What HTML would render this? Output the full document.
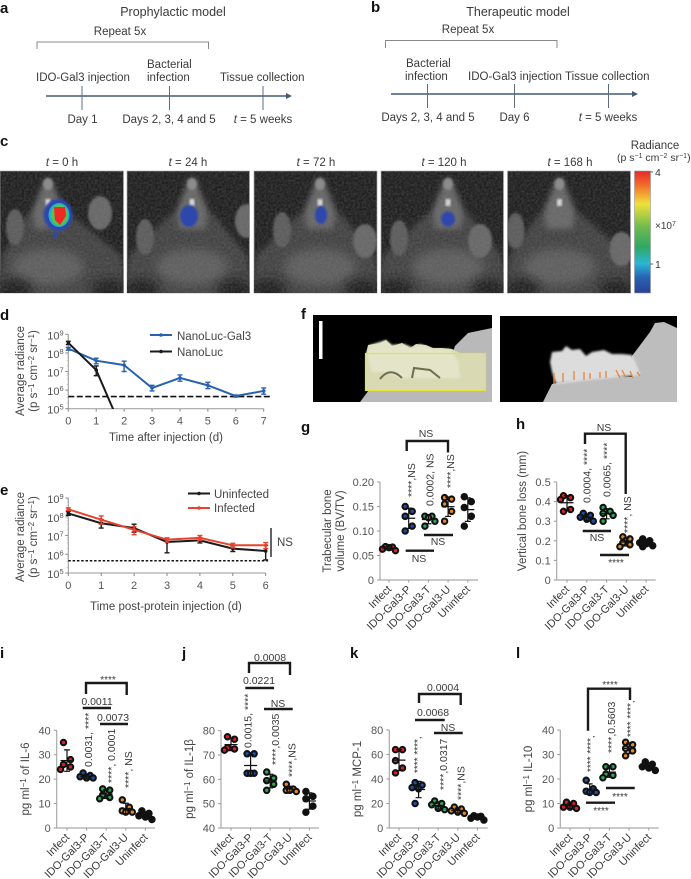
<!DOCTYPE html>
<html lang="en">
<head>
<meta charset="utf-8">
<title>IDO-Gal3 figure</title>
<style>
html,body{margin:0;padding:0;background:#fff;}
svg{display:block;font-family:"Liberation Sans",sans-serif;fill:#333;}
.t{font-size:11.5px;fill:#3a3a3a;}
.h{font-size:12.5px;fill:#3a3a3a;}
.s{font-size:10.5px;fill:#3a3a3a;}
.m{font-size:10px;fill:#3a3a3a;}
.L{font-size:15px;font-weight:bold;fill:#111;}
.tick{font-size:11px;fill:#555;}
.ax{font-size:11.5px;fill:#444;}
.c{text-anchor:middle;}
.tl{stroke:#44597a;stroke-width:1.6;fill:none;}
.tk{stroke:#5d6c84;stroke-width:1;fill:none;}
.br{stroke:#888;stroke-width:1;fill:none;}
.sig{stroke:#1a1a1a;stroke-width:2.4;fill:none;}
.cat{font-size:11px;fill:#3a3a3a;}
</style>
</head>
<body>
<svg id="fig" xmlns="http://www.w3.org/2000/svg" width="691" height="879" viewBox="0 0 691 879">
<defs>
<filter id="b1" x="-20%" y="-20%" width="140%" height="140%"><feGaussianBlur stdDeviation="1"/></filter>
<filter id="b3" x="-30%" y="-30%" width="160%" height="160%"><feGaussianBlur stdDeviation="3"/></filter>
<filter id="b6" x="-30%" y="-30%" width="160%" height="160%"><feGaussianBlur stdDeviation="5"/></filter>
<filter id="noise" x="0" y="0" width="100%" height="100%"><feTurbulence type="fractalNoise" baseFrequency="0.45" numOctaves="2" seed="4"/><feColorMatrix type="matrix" values="0 0 0 0 0.25  0 0 0 0 0.25  0 0 0 0 0.25  1.4 0 0 0 -0.35"/></filter>
<linearGradient id="cbar" x1="0" y1="0" x2="0" y2="1">
<stop offset="0" stop-color="#e8262a"/><stop offset="0.12" stop-color="#f3702a"/><stop offset="0.27" stop-color="#efe13a"/><stop offset="0.45" stop-color="#74bd4c"/><stop offset="0.62" stop-color="#2fa862"/><stop offset="0.76" stop-color="#29b6d6"/><stop offset="0.87" stop-color="#2764b4"/><stop offset="1" stop-color="#2a3f97"/>
</linearGradient>
</defs>

<!-- Panel letters -->
<text class="L" x="0" y="13">a</text>
<text class="L" x="371" y="12">b</text>
<text class="L" x="0" y="146">c</text>
<text class="L" x="0" y="320">d</text>
<text class="L" x="0" y="495">e</text>
<text class="L" x="301" y="319">f</text>
<text class="L" x="301" y="432">g</text>
<text class="L" x="516" y="429">h</text>
<text class="L" x="0" y="658">i</text>
<text class="L" x="182" y="658">j</text>
<text class="L" x="350" y="658">k</text>
<text class="L" x="516" y="658">l</text>

<!-- Panel a -->
<g>
<text class="h c" x="173" y="16">Prophylactic model</text>
<text class="t c" x="120" y="35">Repeat 5x</text>
<path class="br" d="M37 49V42H208.500V49"/>
<text class="t" x="36" y="81">IDO-Gal3 injection</text>
<text class="t" x="147" y="68">Bacterial</text>
<text class="t" x="147" y="81">infection</text>
<text class="t" x="220" y="81">Tissue collection</text>
<path class="tl" d="M46 96H288"/>
<path d="M292 96l-6-3v6z" fill="#44597a"/>
<path class="tk" d="M82 86V110M169.500 86V110M263 86V110"/>
<text class="t c" x="82.500" y="123">Day 1</text>
<text class="t c" x="169" y="123">Days 2, 3, 4 and 5</text>
<text class="t c" x="263" y="123"><tspan font-style="italic">t</tspan> = 5 weeks</text>
</g>

<!-- Panel b -->
<g>
<text class="h c" x="518" y="16">Therapeutic model</text>
<text class="t c" x="468" y="33">Repeat 5x</text>
<path class="br" d="M385.500 48V40.500H557V48"/>
<text class="t" x="406" y="67">Bacterial</text>
<text class="t" x="405" y="80">infection</text>
<text class="t" x="468" y="80">IDO-Gal3 injection</text>
<text class="t" x="565" y="80">Tissue collection</text>
<path class="tl" d="M391 94H634"/>
<path d="M638 94l-6-3v6z" fill="#44597a"/>
<path class="tk" d="M427.500 84V108M514.500 84V108M608.500 84V108"/>
<text class="t c" x="428" y="121">Days 2, 3, 4 and 5</text>
<text class="t c" x="514.500" y="121">Day 6</text>
<text class="t c" x="608" y="121"><tspan font-style="italic">t</tspan> = 5 weeks</text>
</g>

<!-- Panel c -->
<g id="mice"></g>
<g>
<text class="t c" x="62" y="166"><tspan font-style="italic">t</tspan> = 0 h</text>
<text class="t c" x="188" y="166"><tspan font-style="italic">t</tspan> = 24 h</text>
<text class="t c" x="316" y="166"><tspan font-style="italic">t</tspan> = 72 h</text>
<text class="t c" x="444" y="166"><tspan font-style="italic">t</tspan> = 120 h</text>
<text class="t c" x="570" y="166"><tspan font-style="italic">t</tspan> = 168 h</text>
</g>
<g>
<text class="t c" x="655" y="149">Radiance</text>
<text class="s" x="617" y="161">(p s<tspan dy="-3" font-size="7">−1</tspan><tspan dy="3"> cm</tspan><tspan dy="-3" font-size="7">−2</tspan><tspan dy="3"> sr</tspan><tspan dy="-3" font-size="7">−1</tspan><tspan dy="3">)</tspan></text>
<rect x="634.500" y="171" width="16" height="122" fill="url(#cbar)" stroke="#999" stroke-width=".6"/>
<path d="M650 172h3M650 264h3" stroke="#666"/>
<text class="s" x="655" y="176">4</text>
<text class="m" x="655" y="229">×10<tspan dy="-3" font-size="7">7</tspan></text>
<text class="s" x="655" y="268">1</text>
</g>

<!-- Panel d static -->
<g id="chartD">
<text class="ax c" transform="translate(24 371) rotate(-90)">Average radiance</text>
<text class="ax c" transform="translate(37 371) rotate(-90)">(p s<tspan dy="-3" font-size="8">−1</tspan><tspan dy="3"> cm</tspan><tspan dy="-3" font-size="8">−2</tspan><tspan dy="3"> sr</tspan><tspan dy="-3" font-size="8">−1</tspan><tspan dy="3">)</tspan></text>
<text class="ax c" x="166" y="441">Time after injection (d)</text>
<path d="M150 335H172" stroke="#2a62ad" stroke-width="2"/>
<circle cx="161" cy="335" r="1.800" fill="#2a62ad"/>
<text class="ax" x="177" y="340">NanoLuc-Gal3</text>
<path d="M150 351.500H172" stroke="#1a1a1a" stroke-width="2"/>
<circle cx="161" cy="351.500" r="1.800" fill="#1a1a1a"/>
<text class="ax" x="177" y="356">NanoLuc</text>
</g>

<!-- Panel e static -->
<g id="chartE">
<text class="ax c" transform="translate(24 537) rotate(-90)">Average radiance</text>
<text class="ax c" transform="translate(37 537) rotate(-90)">(p s<tspan dy="-3" font-size="8">−1</tspan><tspan dy="3"> cm</tspan><tspan dy="-3" font-size="8">−2</tspan><tspan dy="3"> sr</tspan><tspan dy="-3" font-size="8">−1</tspan><tspan dy="3">)</tspan></text>
<text class="ax c" x="166" y="610">Time post-protein injection (d)</text>
<path d="M188 493.500H210" stroke="#1a1a1a" stroke-width="2"/>
<circle cx="199" cy="493.500" r="1.800" fill="#1a1a1a"/>
<text class="ax" x="214" y="498">Uninfected</text>
<path d="M188 508H210" stroke="#e8432e" stroke-width="2"/>
<circle cx="199" cy="508" r="1.800" fill="#e8432e"/>
<text class="ax" x="214" y="512">Infected</text>
<path d="M271 528V557" stroke="#222" stroke-width="1.400"/>
<text class="ax" x="277" y="546">NS</text>
</g>

<!-- Panel f -->
<g>
<rect x="313" y="315" width="179" height="87" fill="#000"/>
<path d="M360 402L372 386L440 388L455 346L468 333L492 328V402Z" fill="#b9b9b9"/>
<path d="M366 354L368 345L380 343L386 340L392 346L402 343L410 348L416 344L426 345L433 348L442 348L452 349L462 354L486 354V390H366Z" fill="#d9dab4"/>
<path d="M367 353L370 345L386 340L392 345L404 344L414 348L420 344L432 349L450 349L458 362L460 378L400 378L385 372L372 372Z" fill="#e4e5c8" filter="url(#b1)"/>
<path d="M380 379Q390 366 402 378M412 378L414 368L430 370L440 378" stroke="#6d6d50" stroke-width="2" fill="none"/>
<rect x="365.500" y="353.500" width="120" height="37" fill="none" stroke="#e5e43a" stroke-width="1.200"/>
<rect x="319" y="321" width="3.500" height="38" fill="#fff"/>
</g>
<g>
<rect x="500" y="316" width="177" height="86" fill="#000"/>
<path d="M543 402L552 384L600 375L632 377L632 356L650 332L655 323L664 322L677 328V402Z" fill="#bdbdbd"/>
<path d="M550 362L552 352L562 351L566 346L572 350L580 349L586 356L592 352L604 350L612 354L622 354L632 355L638 368L640 375L610 378L590 380L556 384L552 372Z" fill="#dcdcdc" filter="url(#b1)"/>
<path d="M554 373V384M563 373V382M574 371V380M584 372V380M590 373V379M600 372V378M606 371V378M616 370L620 378M622 370L626 378M630 371L633 378M637 372L640 376" stroke="#e8843a" stroke-width="1.300" fill="none"/>
</g>

<!-- Scatter panels -->
<g id="chartG">
<text class="ax c" transform="translate(331 531) rotate(-90)">Trabecular bone</text>
<text class="ax c" transform="translate(344 531) rotate(-90)">volume (BV/TV)</text>
<path class="sig" d="M406.700 451V441H448V452.500"/>
<path class="sig" d="M405.700 550.700H434M424 535H453"/>
<text class="s c" x="426" y="437">NS</text>
<text class="s c" x="419" y="562">NS</text>
<text class="s c" x="438" y="545">NS</text>
<text class="s" transform="translate(415 497) rotate(-90)">****,NS</text>
<text class="s" transform="translate(433.500 506) rotate(-90)">0.0002, NS</text>
<text class="s" transform="translate(454 488) rotate(-90)">****,NS</text>
</g>
<g id="chartH">
<text class="ax c" transform="translate(526 511) rotate(-90)">Vertical bone loss (mm)</text>
<path class="sig" d="M585 444V433.700H625.700V494"/>
<path class="sig" d="M582.700 531H611M600 555H629"/>
<text class="s c" x="604" y="431">NS</text>
<text class="s c" x="597" y="541">NS</text>
<text class="m c" x="616" y="566">****</text>
<text class="s" transform="translate(590.500 503) rotate(-90)">0.0004, ****</text>
<text class="s" transform="translate(610.500 497) rotate(-90)">0.0065, ****</text>
<text class="s" transform="translate(631 533) rotate(-90)">****, NS</text>
</g>
<g id="chartI">
<text class="ax c" transform="translate(29 779) rotate(-90)">pg ml<tspan dy="-3" font-size="8">−1</tspan><tspan dy="3"> of IL-6</tspan></text>
<path class="sig" d="M86 694V683H126.700V695"/>
<path class="sig" d="M82.700 708H111M100 724H128"/>
<text class="m c" x="108" y="683">****</text>
<text class="s c" x="97" y="705">0.0011</text>
<text class="s c" x="113" y="721">0.0073</text>
<text class="s" transform="translate(92 767) rotate(-90)">0.0031, ****</text>
<text class="s" transform="translate(115 783) rotate(-90)">****, 0.0001</text>
<text class="s" transform="translate(132 788) rotate(-90)">****, NS</text>
</g>
<g id="chartJ">
<text class="ax c" transform="translate(193 779) rotate(-90)">pg ml<tspan dy="-3" font-size="8">−1</tspan><tspan dy="3"> of  IL-1β</tspan></text>
<path class="sig" d="M249 673V663H290V675"/>
<path class="sig" d="M245.300 688H274M264 709H292.700"/>
<text class="s c" x="270" y="661">0.0008</text>
<text class="s c" x="259" y="684">0.0221</text>
<text class="s c" x="278" y="707">NS</text>
<text class="s" transform="translate(251.500 748) rotate(-90)">0.0015, ****</text>
<text class="s" transform="translate(279 765) rotate(-90)">****,0.0035</text>
<text class="s" transform="translate(295.500 777) rotate(-90)">****,NS</text>
</g>
<g id="chartK">
<text class="ax c" transform="translate(361 779) rotate(-90)">pg ml<tspan dy="-3" font-size="8">−1</tspan><tspan dy="3"> MCP-1</tspan></text>
<path class="sig" d="M419 703V694H460.700V705"/>
<path class="sig" d="M415 720H444.700M434 733H462.700"/>
<text class="s c" x="443" y="691">0.0004</text>
<text class="s c" x="433" y="716">0.0068</text>
<text class="s c" x="448" y="731">NS</text>
<text class="m" transform="translate(421 773) rotate(-90)">**** ****,</text>
<text class="s" transform="translate(447 790) rotate(-90)">****,0.0317</text>
<text class="s" transform="translate(464.500 800) rotate(-90)">****,NS</text>
</g>
<g id="chartL">
<text class="ax c" transform="translate(532 779) rotate(-90)">pg ml<tspan dy="-3" font-size="8">−1</tspan><tspan dy="3"> IL-10</tspan></text>
<path class="sig" d="M588 730.700V688.700H630V700"/>
<path class="sig" d="M586 802.700H615M606 788H634.700"/>
<text class="m c" x="610" y="688">****</text>
<text class="m c" x="601" y="814">****</text>
<text class="m c" x="620" y="800">****</text>
<text class="m" transform="translate(594 772) rotate(-90)">**** ****,</text>
<text class="s" transform="translate(615 753) rotate(-90)">****,0.5603</text>
<text class="m" transform="translate(634 737) rotate(-90)">**** ****,</text>
</g>
</svg>

<script>
// ---- Line chart data (panels d, e) ----
const dayTicksD = [0, 1, 2, 3, 4, 5, 6, 7];
const gal3Mean = [1.7e8, 3.8e7, 2.2e7, 1.3e6, 4.5e6, 1.8e6, 4.8e5, 9e5];
const gal3Low = [1.4e8, 2.6e7, 1.0e7, 9e5, 3e6, 1.2e6, 4.2e5, 6e5];
const gal3High = [2.0e8, 5.2e7, 3.6e7, 1.8e6, 6.5e6, 2.6e6, 5.4e5, 1.3e6];
const nanolucDays = [0, 1, 2];
const nanolucMean = [3.5e8, 1.2e7, 4e3];
const nanolucLow = [2.8e8, 6e6, 4e3];
const nanolucHigh = [4.2e8, 2e7, 4e3];
const thresholdD = 4.5e5;
const dayTicksE = [0, 1, 2, 3, 4, 5, 6];
const uninfMean = [1.5e8, 4.5e7, 2.5e7, 4.5e6, 5.5e6, 2e6, 1.5e6];
const uninfLow = [1.2e8, 2.5e7, 1.5e7, 1.2e6, 4e6, 1.4e6, 5e5];
const uninfHigh = [1.9e8, 7e7, 4e7, 6.5e6, 7.5e6, 2.8e6, 3e6];
const infMean = [2.5e8, 7e7, 2e7, 6e6, 7.5e6, 3e6, 3e6];
const infLow = [2.1e8, 4e7, 1.1e7, 4.5e6, 5.5e6, 2.2e6, 2e6];
const infHigh = [3e8, 1.1e8, 3e7, 7.5e6, 1e7, 3.8e6, 4.2e6];
const thresholdE = 4.5e5;
const logExponents = [5, 6, 7, 8, 9];

// ---- Scatter data (panels g-l) ----
const groupLabels = ['Infect', 'IDO-Gal3-P', 'IDO-Gal3-T', 'IDO-Gal3-U', 'Uninfect'];
const groupColors = ['#e01f2d', '#1f4fa8', '#2fa85a', '#ec8a24', '#111111'];
const ticksG = [0, 0.05, 0.10, 0.15, 0.20];
const tickTextG = ['0', '0.05', '0.10', '0.15', '0.20'];
const boneVolume = [
  [0.068, 0.066, 0.063, 0.060, 0.067],
  [0.150, 0.140, 0.130, 0.110, 0.100],
  [0.130, 0.130, 0.127, 0.120, 0.110],
  [0.168, 0.165, 0.155, 0.140, 0.120],
  [0.170, 0.160, 0.148, 0.130, 0.110]
];
const ticksH = [0, 0.1, 0.2, 0.3, 0.4, 0.5];
const tickTextH = ['0', '0.1', '0.2', '0.3', '0.4', '0.5'];
const boneLoss = [
  [0.43, 0.42, 0.41, 0.36, 0.35],
  [0.34, 0.33, 0.32, 0.31, 0.30],
  [0.37, 0.35, 0.34, 0.33, 0.30],
  [0.22, 0.21, 0.19, 0.18, 0.17],
  [0.21, 0.20, 0.19, 0.185, 0.175, 0.17]
];
const ticksI = [0, 10, 20, 30, 40];
const il6 = [
  [35, 28, 26, 25, 24],
  [22.5, 21.5, 21, 20.5, 20.5],
  [16, 15.5, 13.5, 12.5, 12],
  [11.5, 8.5, 7, 6.5, 6.5],
  [7, 6, 5, 4.5, 3.5]
];
const ticksJ = [40, 50, 60, 70, 80];
const il1b = [
  [77.5, 76.5, 73, 72.5, 72],
  [70.5, 70.5, 62.5, 62.5, 62.5],
  [63, 60.5, 59.5, 58, 55.5],
  [58, 56, 55.5, 55.5, 55],
  [55, 53, 52, 49, 46.5]
];
const ticksK = [0, 20, 40, 60, 80];
const mcp1 = [
  [64, 64, 55, 49, 45],
  [37, 35, 33, 32, 20],
  [22, 20, 19, 16, 15],
  [17, 15.5, 14, 13, 12],
  [10, 9.5, 9, 8, 6.5]
];
const ticksL = [0, 10, 20, 30, 40];
const il10 = [
  [10.5, 10, 8.5, 8.5, 8],
  [19.5, 16, 15, 14.5, 14.5],
  [25, 25, 22, 21.5, 20.5],
  [35, 34, 32.5, 31.5, 29.5],
  [27, 26, 25, 24.5, 23.5]
];

const NS = 'http://www.w3.org/2000/svg';
function mk(parent, tag, attrs, name) {
  const el = document.createElementNS(NS, tag);
  for (const k in attrs) el.setAttribute(k, attrs[k]);
  
  
  parent.appendChild(el);
  return el;
}

// Mouse images
function mouse(x, w, nose, opts) {
  const top = 171, h = 122;
  const root = document.getElementById('mice');
  const g = mk(root, 'g', {}, 'mouse-image');
  const clipId = 'clip' + Math.round(x);
  const clip = mk(g, 'clipPath', { id: clipId }, 'mouse-image-clip');
  mk(clip, 'rect', { x: x, y: top, width: w, height: h }, 'mouse-clip-rect');
  mk(g, 'rect', { x: x, y: top, width: w, height: h, fill: '#1e1e1e', stroke: '#aaa', 'stroke-width': 0.7 }, 'mouse-background');
  const inner = mk(g, 'g', { 'clip-path': 'url(#' + clipId + ')' }, 'mouse-content');
  const n = x + nose;
  mk(inner, 'path', { d: `M${n - 20} ${top + 42}L${n + 20} ${top + 42}L${x + w - 2} ${top + 85}L${x + w + 4} ${top + h + 5}L${x - 4} ${top + h + 5}L${x + 2} ${top + 85}Z`, fill: '#434343', filter: 'url(#b3)' }, 'mouse-body');
  mk(inner, 'ellipse', { cx: n, cy: top + 96, rx: 36, ry: 18, fill: '#5e5e5e', filter: 'url(#b6)' }, 'mouse-chest');
  mk(inner, 'ellipse', { cx: x + 14, cy: top + h - 2, rx: 18, ry: 12, fill: '#1c1c1c', filter: 'url(#b6)' }, 'mouse-shadow-left');
  mk(inner, 'ellipse', { cx: x + w - 14, cy: top + h - 2, rx: 18, ry: 12, fill: '#1c1c1c', filter: 'url(#b6)' }, 'mouse-shadow-right');
  mk(inner, 'path', { d: `M${n - 3} ${top + 8}L${n + 3} ${top + 8}L${n + 16} ${top + 40}L${n + 13} ${top + 58}L${n - 13} ${top + 58}L${n - 16} ${top + 40}Z`, fill: '#686868', filter: 'url(#b3)' }, 'mouse-head');
  mk(inner, 'ellipse', { cx: n, cy: top + 13, rx: 5, ry: 6, fill: '#8c8c8c', filter: 'url(#b1)' }, 'mouse-nose');
  mk(inner, 'ellipse', { cx: n + opts.earR, cy: top + opts.earRY, rx: 12, ry: 17, fill: '#676767', filter: 'url(#b1)' }, 'mouse-ear-right');
  mk(inner, 'ellipse', { cx: n - opts.earL, cy: top + opts.earLY, rx: 9, ry: 18, fill: '#5c5c5c', filter: 'url(#b1)' }, 'mouse-ear-left');
  mk(inner, 'rect', { x: n - 2.5, y: top + 28, width: 5, height: 7, fill: '#e0e0e0', filter: 'url(#b1)' }, 'mouse-teeth');
  mk(inner, 'rect', { x: x, y: top, width: w, height: h, filter: 'url(#noise)', opacity: 0.35 }, 'mouse-fur-texture');
  return inner;
}
function spot(g, cx, cy, rx, ry) {
  mk(g, 'ellipse', { cx: cx, cy: cy, rx: rx, ry: ry, fill: '#2f47ad', filter: 'url(#b1)' }, 'signal-spot');
}
const m0 = mouse(0, 123.5, 48, { earR: 52, earL: 33, earRY: 42, earLY: 56 });
spot(m0, 58, 215, 14.5, 16);
spot(m0, 55.5, 235, 2.5, 3);
mk(m0, 'ellipse', { cx: 59, cy: 215, rx: 10.5, ry: 12, fill: '#25b0c4' }, 'signal-ring-cyan');
mk(m0, 'ellipse', { cx: 59.5, cy: 215, rx: 8.5, ry: 10.5, fill: '#58c050' }, 'signal-ring-green');
mk(m0, 'path', { d: 'M54 207L65 207L66 216L60 225L55 220Z', fill: '#ed2a24' }, 'signal-core-red');
const m1 = mouse(127, 122.5, 65, { earR: 55, earL: 47, earRY: 50, earLY: 66 });
spot(m1, 189, 216, 9, 11);
const m2 = mouse(254, 123, 66, { earR: 45, earL: 38, earRY: 70, earLY: 59 });
spot(m2, 321, 215, 6, 9);
const m3 = mouse(381, 122.5, 67, { earR: 32, earL: 49, earRY: 70, earLY: 67 });
spot(m3, 448, 219, 7, 7.5);
mouse(507.5, 123, 52, { earR: 62, earL: 44, earRY: 78, earLY: 60 });

// Log-line charts
function axLog(el, x0, x1, yTop, yBot, days) {
  const sx = (d) => x0 + (d - days[0]) / (days[days.length - 1] - days[0]) * (x1 - x0);
  const sy = (v) => yBot - (Math.log10(v) - 5) / 4 * (yBot - yTop);
  mk(el, 'path', { d: `M${x0} ${yTop}V${yBot}H${x1}`, fill: 'none', stroke: '#999', 'stroke-width': 1 }, 'axis-line');
  logExponents.forEach((e) => {
    const y = sy(Math.pow(10, e));
    mk(el, 'path', { d: `M${x0 - 3} ${y}H${x0}`, stroke: '#888', 'stroke-width': 1 }, 'y-tick');
    const t = mk(el, 'text', { class: 'tick', x: x0 - 21, y: y + 5 }, 'y-tick-label');
    t.textContent = '10';
    const ts = mk(t, 'tspan', { dy: -4, 'font-size': 7.5 }, 'y-tick-exponent');
    ts.textContent = e;
    if (e < 9) for (let k = 2; k < 10; k += 2) {
      const ym = sy(k * Math.pow(10, e));
      mk(el, 'path', { d: `M${x0 - 1.5} ${ym}H${x0}`, stroke: '#aaa', 'stroke-width': 0.6 }, 'y-minor-tick');
    }
  });
  days.forEach((d) => {
    const x = sx(d);
    mk(el, 'path', { d: `M${x} ${yBot}V${yBot + 3}`, stroke: '#888', 'stroke-width': 1 }, 'x-tick');
    const t = mk(el, 'text', { class: 'tick c', x: x, y: yBot + 16 }, 'x-tick-label');
    t.textContent = d;
  });
  return { sx, sy };
}
function series(el, sc, days, mean, low, high, color, name, clipId) {
  const g = mk(el, 'g', { 'clip-path': 'url(#' + clipId + ')' }, name + '-series');
  const pts = days.map((d, i) => sc.sx(d) + ',' + sc.sy(mean[i])).join(' ');
  days.forEach((d, i) => {
    const x = sc.sx(d), a = sc.sy(low[i]), b = sc.sy(high[i]);
    mk(g, 'path', { d: `M${x} ${a}V${b}M${x - 2.5} ${a}H${x + 2.5}M${x - 2.5} ${b}H${x + 2.5}`, stroke: color, 'stroke-width': 1.4, fill: 'none' }, name + '-error-bar');
  });
  mk(g, 'polyline', { points: pts, fill: 'none', stroke: color, 'stroke-width': 2 }, name + '-line');
  days.forEach((d, i) => {
    mk(g, 'circle', { cx: sc.sx(d), cy: sc.sy(mean[i]), r: 1.8, fill: color }, name + '-point');
  });
}
const elD = document.getElementById('chartD');
const cD = mk(elD, 'clipPath', { id: 'clipD' }, 'chart-d-clip');
mk(cD, 'rect', { x: 60, y: 330, width: 215, height: 79 }, 'chart-d-clip-rect');
const scD = axLog(elD, 68.3, 263.7, 334.3, 408.7, dayTicksD);
mk(elD, 'path', { d: `M68.3 ${scD.sy(thresholdD)}H270`, stroke: '#111', 'stroke-width': 1.6, 'stroke-dasharray': '6 2.5', fill: 'none' }, 'threshold-line-d');
series(elD, scD, dayTicksD, gal3Mean, gal3Low, gal3High, '#2a62ad', 'nanoluc-gal3', 'clipD');
series(elD, scD, nanolucDays, nanolucMean, nanolucLow, nanolucHigh, '#1a1a1a', 'nanoluc', 'clipD');

const elE = document.getElementById('chartE');
const cE = mk(elE, 'clipPath', { id: 'clipE' }, 'chart-e-clip');
mk(cE, 'rect', { x: 60, y: 490, width: 215, height: 90 }, 'chart-e-clip-rect');
const scE = axLog(elE, 68.3, 265.7, 498, 573, dayTicksE);
mk(elE, 'path', { d: `M68.3 ${scE.sy(thresholdE)}H268`, stroke: '#111', 'stroke-width': 1.6, 'stroke-dasharray': '2.5 1.8', fill: 'none' }, 'threshold-line-e');
series(elE, scE, dayTicksE, uninfMean, uninfLow, uninfHigh, '#1a1a1a', 'uninfected', 'clipE');
series(elE, scE, dayTicksE, infMean, infLow, infHigh, '#e8432e', 'infected', 'clipE');

// Scatter charts
function swarm(vals, sy) {
  const placed = [];
  const order = vals.map((v, i) => i).sort((a, b) => vals[b] - vals[a]);
  order.forEach((i, k) => {
    const y = sy(vals[i]);
    const cand = k % 2 ? [3.5, -3.5, 0, 6.5, -6.5] : [-3.5, 3.5, 0, -6.5, 6.5];
    let best = cand[0], bd = -1;
    for (const c of cand) {
      let d = 1e9;
      placed.forEach((p) => { d = Math.min(d, Math.hypot(p.dx - c, p.y - y)); });
      if (d >= 5) { best = c; bd = d; break; }
      if (d > bd) { bd = d; best = c; }
    }
    placed.push({ dx: best, y: y });
  });
  return placed;
}
function scatter(id, o) {
  const el = document.getElementById(id);
  const sy = (v) => o.yBot - (v - o.vMin) / (o.vMax - o.vMin) * (o.yBot - o.yTop);
  const sx = (i) => o.c0 + i * o.step;
  mk(el, 'path', { d: `M${o.x0} ${o.yTop}V${o.yBot}H${o.x1}`, fill: 'none', stroke: '#aaa', 'stroke-width': 1.2 }, 'axis-line');
  o.ticks.forEach((v, i) => {
    const y = sy(v);
    mk(el, 'path', { d: `M${o.x0 - 3} ${y}H${o.x0}`, stroke: '#999', 'stroke-width': 1 }, 'y-tick');
    const t = mk(el, 'text', { class: 'tick', x: o.x0 - 6, y: y + 4, 'text-anchor': 'end' }, 'y-tick-label');
    t.textContent = o.tickText ? o.tickText[i] : v;
  });
  groupLabels.forEach((lab, i) => {
    const x = sx(i);
    mk(el, 'path', { d: `M${x} ${o.yBot}V${o.yBot + 2.5}`, stroke: '#999', 'stroke-width': 1 }, 'x-tick');
    const t = mk(el, 'text', { class: 'cat', 'text-anchor': 'end', transform: `translate(${x + 3} ${o.yBot + 10}) rotate(-45)` }, 'x-tick-label');
    t.textContent = lab;
  });
  o.data.forEach((vals, i) => {
    const g = mk(el, 'g', {}, 'group-' + groupLabels[i].toLowerCase());
    const x = sx(i);
    swarm(vals, sy).forEach((p) => {
      mk(g, 'circle', { cx: x + p.dx, cy: p.y, r: 2.7, fill: groupColors[i], stroke: '#111', 'stroke-width': 2.1 }, 'data-point');
    });
    const mean = vals.reduce((a, b) => a + b, 0) / vals.length;
    const sd = Math.sqrt(vals.reduce((a, b) => a + (b - mean) * (b - mean), 0) / (vals.length - 1));
    const ym = sy(mean), y1 = sy(mean + sd), y2 = sy(mean - sd);
    mk(g, 'path', { d: `M${x - 6.5} ${ym}H${x + 6.5}M${x} ${y1}V${y2}M${x - 3} ${y1}H${x + 3}M${x - 3} ${y2}H${x + 3}`, stroke: '#111', 'stroke-width': 1.2, fill: 'none' }, 'mean-sd-bar');
  });
}
scatter('chartG', { x0: 380, x1: 478, yTop: 482, yBot: 580, vMin: 0, vMax: 0.2, c0: 389, step: 19.7, ticks: ticksG, tickText: tickTextG, data: boneVolume });
scatter('chartH', { x0: 556.7, x1: 655.7, yTop: 482, yBot: 580, vMin: 0, vMax: 0.5, c0: 567, step: 19.8, ticks: ticksH, tickText: tickTextH, data: boneLoss });
scatter('chartI', { x0: 56.7, x1: 155, yTop: 730.3, yBot: 828, vMin: 0, vMax: 40, c0: 67, step: 19.6, ticks: ticksI, data: il6 });
scatter('chartJ', { x0: 221, x1: 319, yTop: 730.7, yBot: 828, vMin: 40, vMax: 80, c0: 231, step: 19.6, ticks: ticksJ, data: il1b });
scatter('chartK', { x0: 389.3, x1: 487.7, yTop: 730, yBot: 828, vMin: 0, vMax: 80, c0: 399, step: 19.6, ticks: ticksK, data: mcp1 });
scatter('chartL', { x0: 560.3, x1: 658.7, yTop: 730, yBot: 828, vMin: 0, vMax: 40, c0: 570, step: 19.7, ticks: ticksL, data: il10 });
</script>
</body>
</html>
